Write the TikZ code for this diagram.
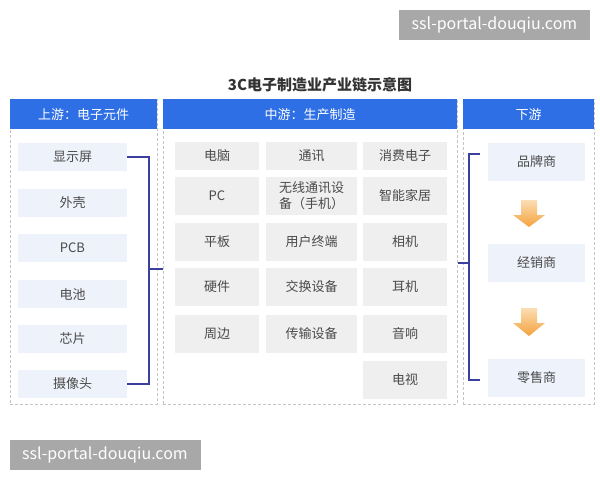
\documentclass[tikz,border=0pt]{standalone}
\usepackage{fontspec}
\setmainfont{Noto Sans CJK SC}
\usetikzlibrary{calc}
\definecolor{headblue}{HTML}{2E6FE6}
\definecolor{boxblue}{HTML}{EEF2FB}
\definecolor{boxgray}{HTML}{EFEFEF}
\definecolor{linkblue}{HTML}{3B3F9E}
\definecolor{dashgray}{HTML}{C4C4C4}
\definecolor{itemtext}{HTML}{4A4A4A}
\definecolor{markgray}{HTML}{A8A8A8}
\definecolor{arrowtop}{HTML}{FBDDB4}
\definecolor{arrowbot}{HTML}{F4A23C}
\tikzset{
	panel/.style={draw=dashgray, dash pattern=on 3pt off 2pt, line width=0.6pt, inner sep=0pt, anchor=north west, minimum height=305pt},
	header/.style={fill=headblue, text=white, inner sep=0pt, anchor=north west, minimum height=30pt, font=\fontsize{13}{15}\selectfont},
	upbox/.style={fill=boxblue, text=itemtext, inner sep=0pt, minimum width=109pt, minimum height=28pt, font=\fontsize{13}{15}\selectfont},
	midbox/.style={fill=boxgray, text=itemtext, inner sep=0pt, minimum height=38pt, align=center, font=\fontsize{13}{16}\selectfont},
	downbox/.style={fill=boxblue, text=itemtext, inner sep=0pt, minimum width=97pt, minimum height=38pt, font=\fontsize{13}{15}\selectfont},
	bracket/.style={draw=linkblue, line width=1.2pt},
	flowarrow/.style={top color=arrowtop, bottom color=arrowbot},
	watermark/.style={fill=markgray, text=white, inner sep=0pt, minimum width=191pt, minimum height=30pt, font=\fontsize{16}{18}\selectfont}
}

\begin{document}
\begin{tikzpicture}[x=1pt, y=-1pt]
			%%%%% START %%%%%
			
			\fill[white] (0, 0) rectangle (600, 480);
			\useasboundingbox (0, 0) rectangle (600, 480);
			
			\node[watermark] (markone) at (494.5, 25) {ssl-portal-douqiu.com};
			\node[watermark] (marktwo) at (105, 455) {ssl-portal-douqiu.com};
			
			\node[font=\fontsize{15}{17}\selectfont\bfseries, text=black!80] (title) at (320, 85) {3C电子制造业产业链示意图};
			
			% panels
			\node[panel, minimum width=147pt] (uppanel) at (10, 99) {};
			\node[panel, minimum width=294pt] (midpanel) at (163, 99) {};
			\node[panel, minimum width=131pt] (downpanel) at (463, 99) {};
			
			\node[header, minimum width=147pt] (uphead) at (10, 99) {上游：电子元件};
			\node[header, minimum width=294pt] (midhead) at (163, 99) {中游：生产制造};
			\node[header, minimum width=131pt] (downhead) at (463, 99) {下游};
			
			% upstream
			\node[upbox] (up1) at (72.5, 157) {显示屏};
			\node[upbox] (up2) at (72.5, 203) {外壳};
			\node[upbox] (up3) at (72.5, 248) {PCB};
			\node[upbox] (up4) at (72.5, 294) {电池};
			\node[upbox] (up5) at (72.5, 339) {芯片};
			\node[upbox] (up6) at (72.5, 384) {摄像头};
			
			% midstream
			\node[midbox, minimum width=84pt, minimum height=28pt] (pc1) at (217, 156) {电脑};
			\node[midbox, minimum width=84pt] (pc2) at (217, 196) {PC};
			\node[midbox, minimum width=84pt] (pc3) at (217, 241.5) {平板};
			\node[midbox, minimum width=84pt] (pc4) at (217, 287) {硬件};
			\node[midbox, minimum width=84pt] (pc5) at (217, 333.5) {周边};
			
			\node[midbox, minimum width=91pt, minimum height=28pt] (com1) at (311.5, 156) {通讯};
			\node[midbox, minimum width=91pt] (com2) at (311.5, 196) {无线通讯设\\备（手机）};
			\node[midbox, minimum width=91pt] (com3) at (311.5, 241.5) {用户终端};
			\node[midbox, minimum width=91pt] (com4) at (311.5, 287) {交换设备};
			\node[midbox, minimum width=91pt] (com5) at (311.5, 333.5) {传输设备};
			
			\node[midbox, minimum width=84pt, minimum height=28pt] (ce1) at (405, 156) {消费电子};
			\node[midbox, minimum width=84pt] (ce2) at (405, 196) {智能家居};
			\node[midbox, minimum width=84pt] (ce3) at (405, 241.5) {相机};
			\node[midbox, minimum width=84pt] (ce4) at (405, 287) {耳机};
			\node[midbox, minimum width=84pt] (ce5) at (405, 333.5) {音响};
			\node[midbox, minimum width=84pt] (ce6) at (405, 379.5) {电视};
			
			% downstream
			\node[downbox] (down1) at (536.5, 161.5) {品牌商};
			\node[downbox] (down2) at (536.5, 262.5) {经销商};
			\node[downbox] (down3) at (536.5, 377.5) {零售商};
			
			\shade[flowarrow] (521, 200) -- (537, 200) -- (537, 215) -- (545, 215) -- (529, 227) -- (513, 215) -- (521, 215) -- cycle;
			\shade[flowarrow] (521, 308) -- (537, 308) -- (537, 323) -- (545, 323) -- (529, 336) -- (513, 323) -- (521, 323) -- cycle;
			
			% links
			\coordinate (upbus) at (149, 269);
			\draw[bracket] (up1.east) -| (upbus) |- (up6.east);
			\draw[bracket] (upbus) -- (upbus -| midpanel.west);
			
			\coordinate (downbus) at (469, 263);
			\coordinate (downtop) at (480, 154);
			\coordinate (downbot) at (480, 380);
			\draw[bracket] (downbus -| midpanel.east) -- (downbus);
			\draw[bracket] (downtop) -| (downbus) |- (downbot);
			
			%%%%% END %%%%%
\end{tikzpicture}
\end{document}
